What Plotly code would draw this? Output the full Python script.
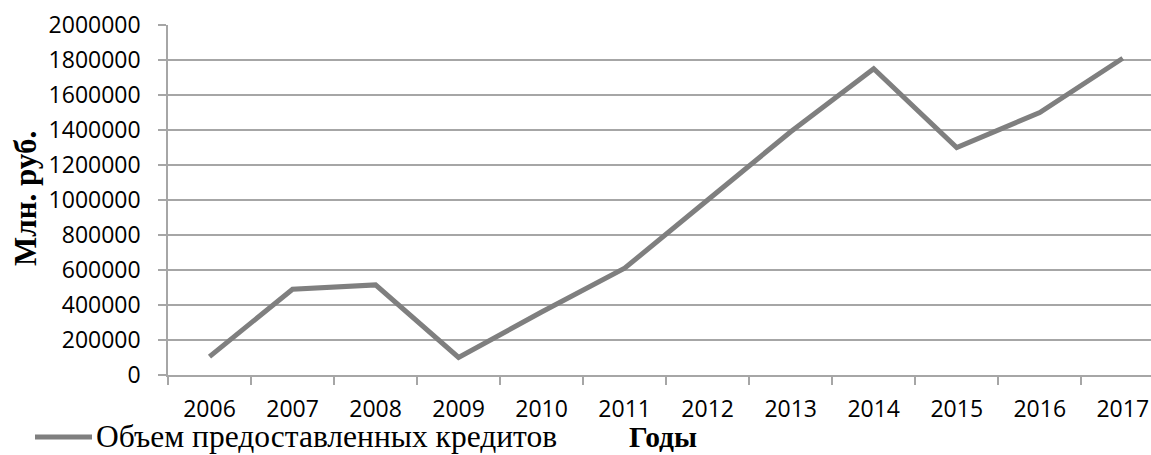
import plotly.graph_objects as go

years = ["2006", "2007", "2008", "2009", "2010", "2011",
         "2012", "2013", "2014", "2015", "2016", "2017"]
loans = [105000, 490000, 515000, 100000, 360000, 610000,
         1000000, 1390000, 1750000, 1300000, 1500000, 1810000]
y_ticks = list(range(0, 2000001, 200000))

series_name = "Объем предоставленных кредитов"
x_title = "Годы"
y_title = "Млн. руб."

grey_line = "#7f7f7f"
grid_col = "#a6a6a6"
tick_font = dict(family="Open Sans", size=23, color="#000000")
serif = "Liberation Serif"

# plot area: 168..1151 px wide, 25..375 px tall
L, T, R_EDGE, B = 168, 25, 1151, 375


def px_x(px):
    return (px - L) / (R_EDGE - L)


def px_y(py):
    return (B - py) / (B - T)


fig = go.Figure()
fig.add_trace(go.Scatter(
    x=years, y=loans, mode="lines", name=series_name,
    line=dict(color=grey_line, width=5), showlegend=False,
))

# legend key drawn below the axis, left aligned
fig.add_shape(type="line", xref="paper", yref="paper",
              x0=px_x(35), x1=px_x(92), y0=px_y(437), y1=px_y(437),
              line=dict(color=grey_line, width=5))

fig.update_layout(
    width=1151, height=455,
    margin=dict(l=L, r=0, t=T, b=455 - B),
    paper_bgcolor="white", plot_bgcolor="white",
    annotations=[
        dict(text=series_name, xref="paper", yref="paper",
             x=px_x(94), y=px_y(437), xanchor="left", yanchor="middle",
             showarrow=False, font=dict(family=serif, size=31.5, color="#000000")),
        dict(text="<b>" + x_title + "</b>", xref="paper", yref="paper",
             x=px_x(662.5), y=px_y(437), xanchor="center", yanchor="middle",
             showarrow=False, font=dict(family=serif, size=29.5, color="#000000")),
        dict(text="<b>" + y_title + "</b>", xref="paper", yref="paper",
             x=px_x(25), y=px_y(199), xanchor="center", yanchor="middle",
             textangle=-90, showarrow=False,
             font=dict(family=serif, size=31, color="#000000")),
    ],
)

fig.update_xaxes(
    type="category", range=[-0.5, 11.34],
    showgrid=False, showline=True, linecolor=grid_col, linewidth=1.5,
    ticks="outside", tickson="boundaries", ticklen=8, tickcolor=grid_col,
    tickwidth=1.5, tickfont=tick_font, ticklabelstandoff=13,
)
fig.update_yaxes(
    range=[0, 2000000], tickvals=y_ticks, ticktext=[str(v) for v in y_ticks],
    showgrid=True, gridcolor=grid_col, gridwidth=1.5,
    showline=True, linecolor=grid_col, linewidth=1.5,
    ticks="outside", ticklen=8, tickcolor=grid_col, tickwidth=1.5,
    tickfont=tick_font, zeroline=False, ticklabelstandoff=13,
)

fig.write_html("out.html")
